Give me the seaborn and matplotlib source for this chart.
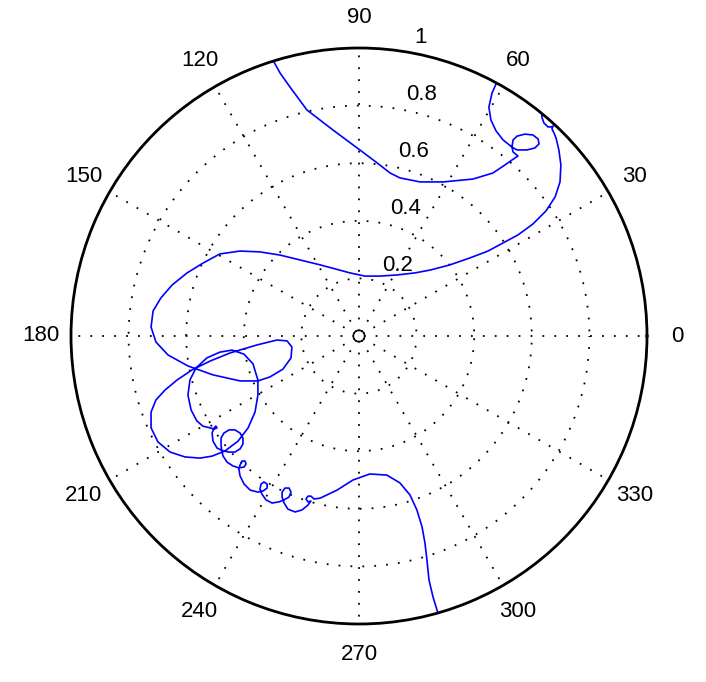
import numpy as np
import pandas as pd
import matplotlib
matplotlib.use("Agg")
import matplotlib.pyplot as plt
import seaborn as sns

sns.set_style("white")
plt.rcParams['font.family'] = ['Liberation Sans', 'DejaVu Sans']
plt.rcParams['text.color'] = 'black'

# trajectory in data units (x = r cos t, y = r sin t)
# part 1: enters at the bottom rim, ends at the rim near 50 deg
x_part1 = [0.281, 0.274, 0.257, 0.243, 0.236, 0.229, 0.219, 0.201, 0.177, 0.142, 0.097, 0.038,
           -0.021, -0.076, -0.135, -0.156, -0.167, -0.177, -0.184, -0.177, -0.167, -0.177,
           -0.198, -0.222, -0.247, -0.260, -0.267, -0.267, -0.257, -0.243, -0.236, -0.243,
           -0.260, -0.278, -0.302, -0.323, -0.337, -0.344, -0.340, -0.330, -0.319, -0.319,
           -0.333, -0.351, -0.378, -0.399, -0.413, -0.417, -0.413, -0.406, -0.396, -0.392,
           -0.399, -0.417, -0.438, -0.458, -0.472, -0.477, -0.479, -0.479, -0.469, -0.451,
           -0.431, -0.413, -0.403, -0.403, -0.413, -0.431, -0.451, -0.472, -0.493, -0.507,
           -0.510, -0.503, -0.497, -0.493, -0.503, -0.517, -0.542, -0.563, -0.583, -0.594,
           -0.587, -0.566, -0.528, -0.483, -0.441, -0.399, -0.368, -0.351, -0.351, -0.361,
           -0.385, -0.420, -0.465, -0.510, -0.552, -0.604, -0.656, -0.698, -0.722, -0.722,
           -0.705, -0.674, -0.632, -0.580, -0.517, -0.448, -0.354, -0.285, -0.250, -0.233,
           -0.236, -0.264, -0.309, -0.351, -0.413, -0.507, -0.594, -0.663, -0.705, -0.722,
           -0.715, -0.688, -0.649, -0.597, -0.542, -0.483, -0.413, -0.344, -0.274, -0.205,
           -0.135, -0.083, -0.031, 0.021, 0.073, 0.132, 0.194, 0.247, 0.316, 0.385, 0.448,
           0.500, 0.552, 0.604, 0.649, 0.681, 0.698, 0.701, 0.694, 0.684, 0.677, 0.670,
           0.674, 0.667, 0.656, 0.642, 0.635, 0.635, 0.632]
y_part1 = [-0.986, -0.962, -0.906, -0.847, -0.778, -0.719, -0.663, -0.604, -0.552, -0.510, -0.483, -0.479,
           -0.500, -0.535, -0.563, -0.566, -0.556, -0.556, -0.566, -0.576, -0.573, -0.587,
           -0.604, -0.611, -0.601, -0.580, -0.559, -0.542, -0.528, -0.528, -0.542, -0.559,
           -0.569, -0.576, -0.580, -0.569, -0.549, -0.531, -0.514, -0.507, -0.514, -0.528,
           -0.538, -0.542, -0.535, -0.514, -0.486, -0.462, -0.448, -0.434, -0.434, -0.444,
           -0.455, -0.458, -0.451, -0.438, -0.417, -0.396, -0.378, -0.354, -0.337, -0.326,
           -0.326, -0.337, -0.354, -0.375, -0.392, -0.403, -0.403, -0.399, -0.389, -0.365,
           -0.337, -0.319, -0.313, -0.319, -0.323, -0.319, -0.313, -0.295, -0.257, -0.205,
           -0.153, -0.111, -0.076, -0.056, -0.049, -0.063, -0.097, -0.153, -0.205, -0.264,
           -0.319, -0.365, -0.399, -0.417, -0.424, -0.420, -0.403, -0.368, -0.319, -0.264,
           -0.222, -0.188, -0.153, -0.118, -0.087, -0.059, -0.031, -0.014, -0.017, -0.038,
           -0.076, -0.115, -0.142, -0.156, -0.156, -0.135, -0.104, -0.066, -0.021, 0.031,
           0.087, 0.132, 0.177, 0.219, 0.253, 0.285, 0.295, 0.292, 0.281, 0.264,
           0.247, 0.233, 0.219, 0.208, 0.208, 0.212, 0.219, 0.229, 0.247, 0.271, 0.295,
           0.323, 0.351, 0.389, 0.434, 0.483, 0.535, 0.594, 0.646, 0.688, 0.705, 0.719,
           0.729, 0.726, 0.726, 0.740, 0.760, 0.778, 0.792]

# part 2: comes back in at the rim near 61 deg, leaves near 107 deg
x_part2 = [0.483, 0.479, 0.462, 0.451, 0.458, 0.476, 0.500, 0.531, 0.549, 0.583, 0.611, 0.625,
           0.622, 0.604, 0.576, 0.549, 0.535, 0.531, 0.535, 0.552, 0.531, 0.507, 0.465,
           0.396, 0.292, 0.212, 0.142, 0.108, 0.063, 0.003, -0.090, -0.181, -0.240, -0.274,
           -0.299, -0.309]
y_part2 = [0.896, 0.882, 0.844, 0.795, 0.750, 0.712, 0.681, 0.656, 0.646, 0.646, 0.653, 0.667,
           0.684, 0.698, 0.701, 0.694, 0.681, 0.656, 0.639, 0.625, 0.611, 0.594, 0.566,
           0.545, 0.535, 0.535, 0.549, 0.566, 0.601, 0.646, 0.715, 0.785, 0.865, 0.913,
           0.958, 0.976]

angle_ticks = list(range(0, 360, 30))
radius_ticks = [0.2, 0.4, 0.6, 0.8, 1.0]
radius_labels = ['0.2', '0.4', '0.6', '0.8', '1']

frames = []
for seg, (xs, ys) in enumerate([(x_part1, y_part1), (x_part2, y_part2)]):
    xs = np.array(xs)
    ys = np.array(ys)
    frames.append(pd.DataFrame({'theta': np.arctan2(ys, xs), 'r': np.hypot(xs, ys), 'seg': seg}))
df = pd.concat(frames, ignore_index=True)

fig = plt.figure(figsize=(7.06, 6.82), dpi=100)
ax = fig.add_axes([71 / 706, 58 / 682, 576 / 706, 576 / 682], projection='polar')

sns.lineplot(data=df, x='theta', y='r', units='seg', estimator=None, sort=False,
             color='#0000ff', linewidth=1.2, ax=ax, legend=False)

# small ring at the origin
ring_t = np.linspace(0, 2 * np.pi, 60)
ax.plot(ring_t, np.full_like(ring_t, 0.02), color='k', linewidth=1.0)

ax.set_ylim(0, 1)
ax.set_thetagrids(angle_ticks, labels=[''] * len(angle_ticks))
ax.set_rgrids(radius_ticks[:-1], labels=[''] * 4)
ax.grid(True, color='k', linestyle=(4.0, (1.0, 5.6)), linewidth=1.3)
ax.spines['polar'].set_color('k')
ax.spines['polar'].set_linewidth(2.0)
ax.set_xlabel('')
ax.set_ylabel('')

# angle labels outside the rim
for a in angle_ticks:
    ax.text(np.deg2rad(a), 1.105, str(a), ha='center', va='center', fontsize=16)

# radius labels, MATLAB style at 82 deg
for rt, lab in zip(radius_ticks, radius_labels):
    ax.annotate(lab, xy=(np.deg2rad(82), rt + 0.01), xytext=(10.8, 3.6),
                textcoords='offset points', ha='left', va='baseline', fontsize=16,
                annotation_clip=False)

fig.savefig('out.png', dpi=100)
